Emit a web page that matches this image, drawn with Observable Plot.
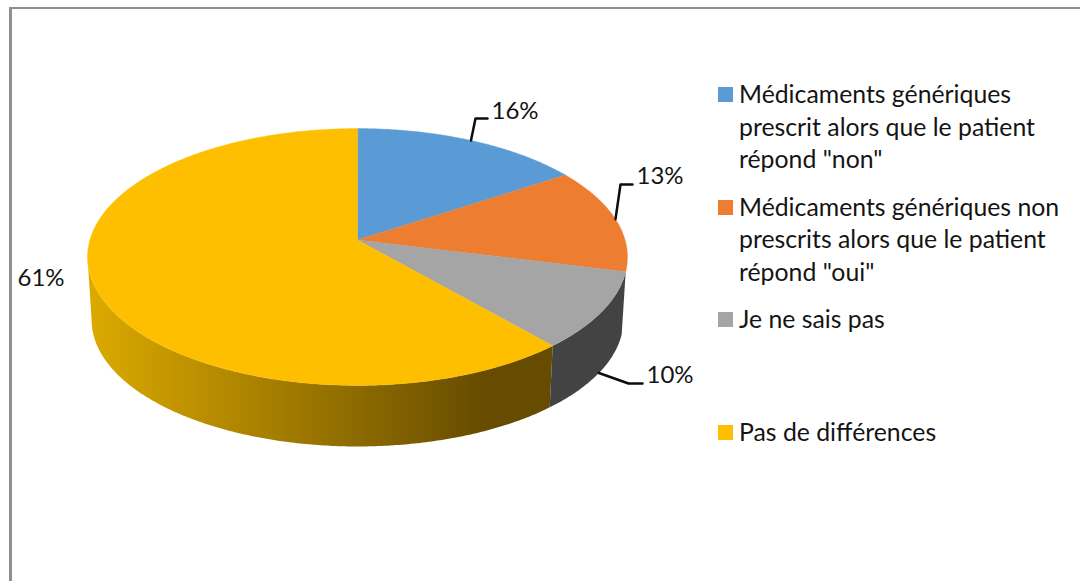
<!DOCTYPE html>
<html lang="fr">
<head>
<meta charset="utf-8">
<script src="https://cdn.jsdelivr.net/npm/d3@7"></script>
<script src="https://cdn.jsdelivr.net/npm/@observablehq/plot@0.6"></script>
<style>
  html, body { margin: 0; padding: 0; background: #fff; }
  #page { position: relative; width: 1080px; height: 581px; overflow: hidden; background: #fff; font-family: Lato, sans-serif; }
  #frame { position: absolute; left: 9px; top: 7px; width: 1090px; height: 600px; border-style: solid; border-color: #8f8f8f; border-width: 2px 0 0 3px; box-sizing: border-box; pointer-events: none; }
  #chart { position: absolute; left: 0; top: 0; }
  #legend { position: absolute; left: 718px; top: 78px; width: 350px; }
  .item { display: flex; height: 112.5px; align-items: flex-start; }
  .sw { flex: none; width: 15px; height: 15px; margin: 9px 6px 0 0; }
  .tx { font-size: 24.8px; line-height: 32.5px; color: #141414; white-space: pre; }
</style>
</head>
<body>
<div id="page">
  <div id="chart"></div>
  <div id="frame"></div>
  <div id="legend"></div>
</div>
<script>
// Data
const categories = [
  "Médicaments génériques\nprescrit alors que le patient\nrépond \"non\"",
  "Médicaments génériques non\nprescrits alors que le patient\nrépond \"oui\"",
  "Je ne sais pas",
  "Pas de différences"
];
const shares = [15.7, 13.2, 9.7, 61.4];
const percentLabels = ["16%", "13%", "10%", "61%"];
const topColors = ["#5b9bd5", "#ed7d31", "#a5a5a5", "#fdbf00"];

// Layout of the perspective disc (pixels)
const W = 710, H = 581, cx = 357, top0 = 239.5, A = 267.6, B = 126.2, k = 0.1323;
const bottomScale = 0.985, bottom0 = 302.7;
const TAU = 2 * Math.PI;

function project(theta, r = 1, level = "top") {
  const X = r * Math.sin(theta), Y = r * Math.cos(theta), w = 1 + k * Y;
  const s = level === "top" ? 1 : bottomScale;
  const y0 = level === "top" ? top0 : bottom0;
  return {x: cx + s * A * X / w, y: y0 - s * B * Y / w};
}
function arc(t0, t1, level) {
  const n = Math.max(2, Math.ceil(Math.abs(t1 - t0) / 0.01));
  return d3.range(n + 1).map(i => project(t0 + (t1 - t0) * i / n, 1, level));
}

// Cumulative angles
const total = d3.sum(shares);
let acc = 0;
const slices = shares.map((v, i) => {
  const a0 = acc / total * TAU; acc += v; const a1 = acc / total * TAU;
  return {i, a0, a1, mid: (a0 + a1) / 2, color: topColors[i]};
});

const topFaces = slices.map(s => ({
  color: s.color,
  pts: [project(0, 0), ...arc(s.a0, s.a1, "top")]
}));
const wall = (t0, t1) => [...arc(t0, t1, "top"), ...arc(t1, t0, "bottom")];
const leftExtreme = TAU - Math.acos(-k);
const grayWall = wall(slices[2].a0, slices[2].a1);
const yellowWall = wall(slices[3].a0, leftExtreme);

// Leader elbows and label anchors (pixels)
const leaderLayout = [
  {level: "top", elbow: [475, 118], end: [487, 118], label: [514.5, 111]},
  {level: "top", elbow: [620, 184], end: [632, 184], label: [659.5, 176]},
  {level: "bottom", elbow: [628, 383], end: [642, 383], label: [669.5, 375]},
  {level: null, label: [40.5, 278]}
];
const leaders = leaderLayout.flatMap((l, i) => {
  if (!l.level) return [];
  const p = project(slices[i].mid, 1, l.level);
  return [
    {i, x: p.x, y: p.y},
    {i, x: l.elbow[0], y: l.elbow[1]},
    {i, x: l.end[0], y: l.end[1]}
  ];
});
const labels = leaderLayout.map((l, i) => ({text: percentLabels[i], x: l.label[0], y: l.label[1]}));

const gradientDefs = () => {
  const defs = d3.create("svg:defs");
  const g = defs.append("linearGradient").attr("id", "wallGradient");
  g.append("stop").attr("offset", 0).attr("stop-color", "#dcaa00");
  g.append("stop").attr("offset", 0.86).attr("stop-color", "#664b00");
  g.append("stop").attr("offset", 1).attr("stop-color", "#664b00");
  return defs.node();
};

const chart = Plot.plot({
  width: W, height: H,
  margin: 0,
  x: {domain: [0, W], range: [0, W], axis: null},
  y: {domain: [0, H], range: [0, H], axis: null},
  style: {background: "transparent"},
  marks: [
    gradientDefs,
    Plot.line(yellowWall, {x: "x", y: "y", fill: "url(#wallGradient)", stroke: null, curve: "linear-closed"}),
    Plot.line(grayWall, {x: "x", y: "y", fill: "#434343", stroke: null, curve: "linear-closed"}),
    ...topFaces.map(f => Plot.line(f.pts, {x: "x", y: "y", fill: f.color, stroke: f.color, strokeWidth: 0.4, curve: "linear-closed"})),
    Plot.line(leaders, {x: "x", y: "y", z: "i", stroke: "#0d0d0d", strokeWidth: 2.5, strokeLinejoin: "round", curve: "linear"}),
    Plot.text(labels, {x: "x", y: "y", text: "text", fontSize: 24, fontFamily: "Lato, sans-serif", fill: "#141414", textAnchor: "middle"})
  ]
});
document.getElementById("chart").append(chart);

const legend = d3.select("#legend");
categories.forEach((c, i) => {
  const it = legend.append("div").attr("class", "item");
  it.append("div").attr("class", "sw").style("background", topColors[i]);
  it.append("div").attr("class", "tx").text(c);
});
</script>
</body>
</html>
